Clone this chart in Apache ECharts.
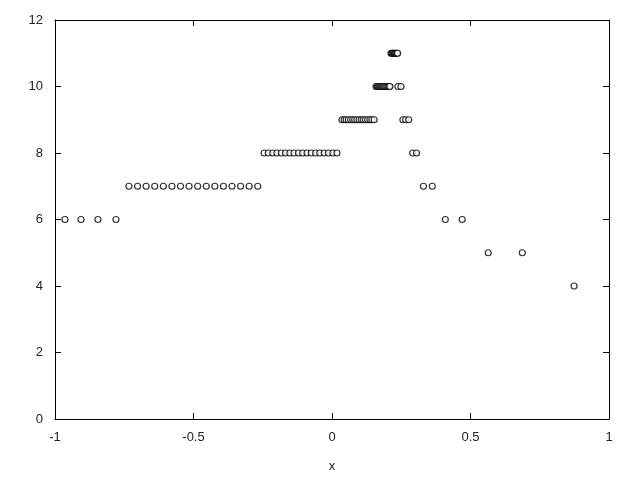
<!DOCTYPE html>
<html>
<head>
<meta charset="utf-8">
<script src="https://cdn.jsdelivr.net/npm/echarts@6/dist/echarts.min.js"></script>
<style>
  html, body { margin: 0; padding: 0; background: #fff; }
  #chart { width: 640px; height: 480px; }
</style>
</head>
<body>
<div id="chart"></div>
<script>
// x positions per level
const xLevel4 = [0.874]
const xLevel5 = [0.564, 0.687]
const xLevel6 = [-0.964, -0.906, -0.845, -0.780, 0.409, 0.470]
const xLevel7 = [
  -0.733, -0.702, -0.671, -0.640, -0.609, -0.578, -0.547, -0.516,
  -0.485, -0.454, -0.423, -0.392, -0.361, -0.330, -0.299, -0.268,
  0.330, 0.362
]
const xLevel8 = [
  -0.245, -0.230, -0.214, -0.199, -0.183, -0.168, -0.152, -0.137, -0.121,
  -0.106, -0.090, -0.075, -0.059, -0.044, -0.028, -0.013, 0.003, 0.018,
  0.291, 0.305
]
const xLevel9 = [
  0.036, 0.044, 0.051, 0.059, 0.067, 0.075, 0.082, 0.090,
  0.098, 0.106, 0.113, 0.121, 0.129, 0.137, 0.144, 0.152,
  0.256, 0.266, 0.277
]
const xLevel10 = [
  0.159, 0.163, 0.167, 0.171, 0.175, 0.179, 0.182, 0.186,
  0.190, 0.194, 0.198, 0.202, 0.206, 0.209, 0.238, 0.249
]
const xLevel11 = [0.213, 0.216, 0.219, 0.222, 0.225, 0.228, 0.231, 0.234, 0.237]

const levels = [
  [4, xLevel4], [5, xLevel5], [6, xLevel6], [7, xLevel7],
  [8, xLevel8], [9, xLevel9], [10, xLevel10], [11, xLevel11]
]
const points = []
levels.forEach(([y, xs]) => xs.forEach(x => points.push([x, y])))

const xTicks = [-1, -0.5, 0, 0.5, 1]
const yTicks = [0, 2, 4, 6, 8, 10, 12]

const font = 'Liberation Sans'
const axisLine = { show: true, onZero: false, lineStyle: { color: '#000', width: 1 } }
const tick = { show: true, inside: true, length: 6, lineStyle: { color: '#000' } }

const chart = echarts.init(document.getElementById('chart'))
chart.setOption({
  animation: false,
  backgroundColor: '#fff',
  grid: { left: 55, right: 31, top: 20, bottom: 61 },
  xAxis: [
    {
      type: 'value', min: -1, max: 1, interval: 0.5,
      name: 'x', nameLocation: 'middle', nameGap: 41,
      nameTextStyle: { color: '#222', fontFamily: font, fontSize: 13 },
      axisLine, axisTick: tick, splitLine: { show: false },
      axisLabel: { color: '#222', fontFamily: font, fontSize: 13, margin: 12,
        formatter: v => xTicks.includes(v) ? String(v) : '' }
    },
    {
      type: 'value', position: 'top', min: -1, max: 1, interval: 0.5,
      axisLine, axisTick: tick, axisLabel: { show: false }, splitLine: { show: false }
    }
  ],
  yAxis: [
    {
      type: 'value', position: 'left', min: 0, max: 12, interval: 2,
      axisLine, axisTick: tick, splitLine: { show: false },
      axisLabel: { color: '#222', fontFamily: font, fontSize: 13, margin: 12,
        formatter: v => yTicks.includes(v) ? String(v) : '' }
    },
    {
      type: 'value', position: 'right', min: 0, max: 12, interval: 2,
      axisLine, axisTick: tick, axisLabel: { show: false }, splitLine: { show: false }
    }
  ],
  series: [
    {
      type: 'scatter',
      data: points,
      symbol: 'circle',
      symbolSize: 6,
      itemStyle: { color: '#fff', borderColor: '#000', borderWidth: 1.2 }
    }
  ]
})
</script>
</body>
</html>
